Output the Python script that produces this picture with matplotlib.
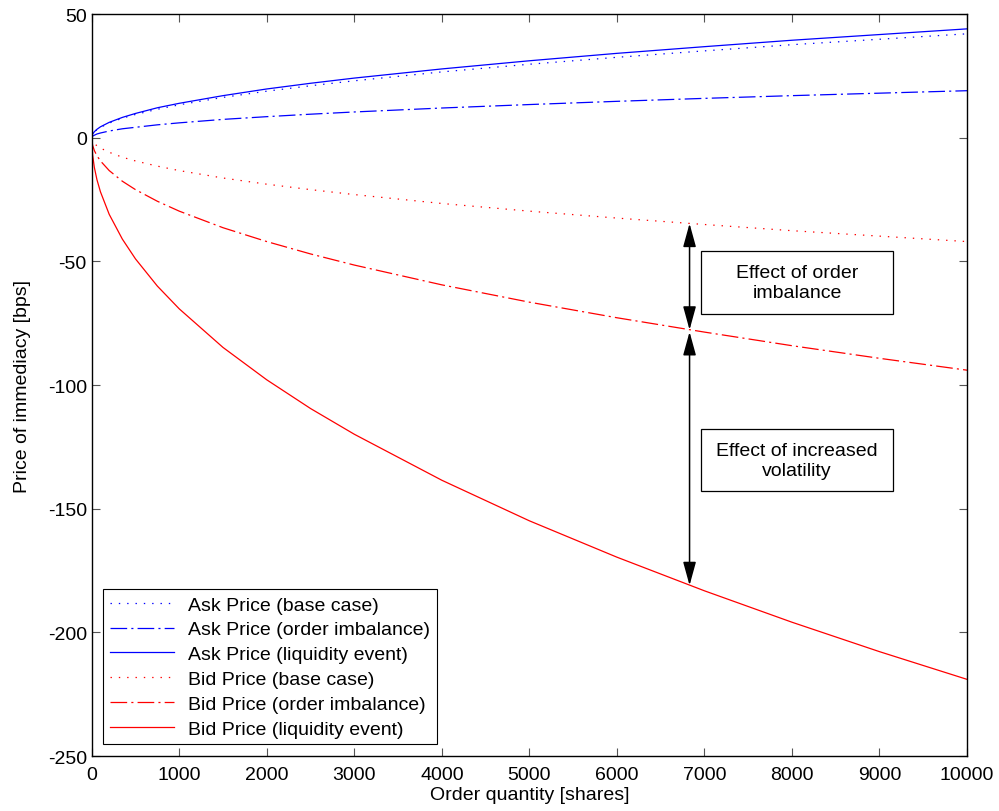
import numpy as np
import matplotlib
matplotlib.use("Agg")
import matplotlib.pyplot as plt
from matplotlib.patches import Rectangle

plt.rcParams['font.family'] = ['Liberation Sans', 'DejaVu Sans']
plt.rcParams['font.size'] = 14
plt.rcParams['lines.scale_dashes'] = False
plt.rcParams['axes.unicode_minus'] = False

# order quantity [shares] and prices [bps]
quantity = [0, 10, 30, 60, 100, 200, 350, 500, 750, 1000, 1500, 2000, 2500,
            3000, 4000, 5000, 6000, 7000, 8000, 9000, 10000]
ask_base = [0, 1.3, 2.3, 3.3, 4.2, 5.9, 7.9, 9.4, 11.5, 13.3, 16.3, 18.8, 21.0,
            23.0, 26.6, 29.7, 32.5, 35.1, 37.6, 39.8, 42.0]
ask_imbalance = [0, 0.6, 1.0, 1.5, 1.9, 2.7, 3.6, 4.2, 5.2, 6.0, 7.4, 8.5, 9.5,
                 10.4, 12.0, 13.4, 14.7, 15.9, 17.0, 18.0, 19.0]
ask_liquidity = [0, 1.4, 2.4, 3.4, 4.4, 6.2, 8.2, 9.8, 12.1, 13.9, 17.0, 19.7, 22.0,
                 24.1, 27.8, 31.1, 34.1, 36.8, 39.4, 41.7, 44.0]
bid_base = [0, -1.3, -2.3, -3.3, -4.2, -5.9, -7.9, -9.4, -11.5, -13.3, -16.3, -18.8, -21.0,
            -23.0, -26.6, -29.7, -32.5, -35.1, -37.6, -39.8, -42.0]
bid_imbalance = [0, -3.0, -5.2, -7.3, -9.4, -13.3, -17.6, -21.0, -25.7, -29.7, -36.4, -42.0, -47.0,
                 -51.5, -59.5, -66.5, -72.8, -78.6, -84.1, -89.2, -94.0]
bid_liquidity = [0, -6.9, -12.0, -17.0, -21.9, -31.0, -41.0, -49.0, -60.0, -69.2, -84.8, -97.9, -109.5,
                 -119.9, -138.5, -154.9, -169.6, -183.2, -195.9, -207.8, -219.0]

dotted = (0, (1, 5))
dashdot = (0, (12, 3, 1.5, 3))

fig = plt.figure(figsize=(9.99, 8.12), dpi=100)
ax = fig.add_axes([0.0918, 0.0677, 0.8762, 0.9138])

lw = 0.9
ax.plot(quantity, ask_base, color='blue', linestyle=dotted, lw=lw, label='Ask Price (base case)')
ax.plot(quantity, ask_imbalance, color='blue', linestyle=dashdot, lw=lw, label='Ask Price (order imbalance)')
ax.plot(quantity, ask_liquidity, color='blue', linestyle='-', lw=lw, label='Ask Price (liquidity event)')
ax.plot(quantity, bid_base, color='red', linestyle=dotted, lw=lw, label='Bid Price (base case)')
ax.plot(quantity, bid_imbalance, color='red', linestyle=dashdot, lw=lw, label='Bid Price (order imbalance)')
ax.plot(quantity, bid_liquidity, color='red', linestyle='-', lw=lw, label='Bid Price (liquidity event)')

# double arrows showing the two effects
arrow = dict(arrowstyle='<|-|>,head_width=0.22,head_length=0.8', mutation_scale=18, lw=1.1,
             color='black', shrinkA=0, shrinkB=0)
ax.annotate('', xy=(6830, -34.7), xytext=(6830, -77.7), arrowprops=arrow)
ax.annotate('', xy=(6830, -78.5), xytext=(6830, -181.0), arrowprops=arrow)

# fixed-size text boxes
ax.add_patch(Rectangle((6961, -71.3), 2194, 25.5, facecolor='white', edgecolor='black', lw=0.9, zorder=4))
ax.add_patch(Rectangle((6961, -142.9), 2194, 25.1, facecolor='white', edgecolor='black', lw=0.9, zorder=4))
ax.text(8058, -58.6, 'Effect of order\nimbalance', ha='center', va='center', zorder=5, linespacing=1.2)
ax.text(8058, -130.4, 'Effect of increased\nvolatility', ha='center', va='center', zorder=5, linespacing=1.2)

ax.set_xlim(0, 10000)
ax.set_ylim(-250, 50)
ax.set_xticks(np.arange(0, 10001, 1000))
ax.set_yticks(np.arange(-250, 51, 50))
ax.tick_params(direction='in', top=True, right=True, length=6, width=0.8, color='#555555')
ax.tick_params(axis='x', pad=7)
for s in ax.spines.values():
    s.set_linewidth(1.0)

ax.set_xlabel('Order quantity [shares]', labelpad=2)
ax.set_ylabel('Price of immediacy [bps]', labelpad=12)

leg = ax.legend(loc='lower left', fancybox=False, edgecolor='black', framealpha=1,
                borderaxespad=0.6, handlelength=3.3, handletextpad=0.7,
                labelspacing=0.37, borderpad=0.35)
leg.get_frame().set_linewidth(0.8)

fig.savefig('out.png', dpi=100)
